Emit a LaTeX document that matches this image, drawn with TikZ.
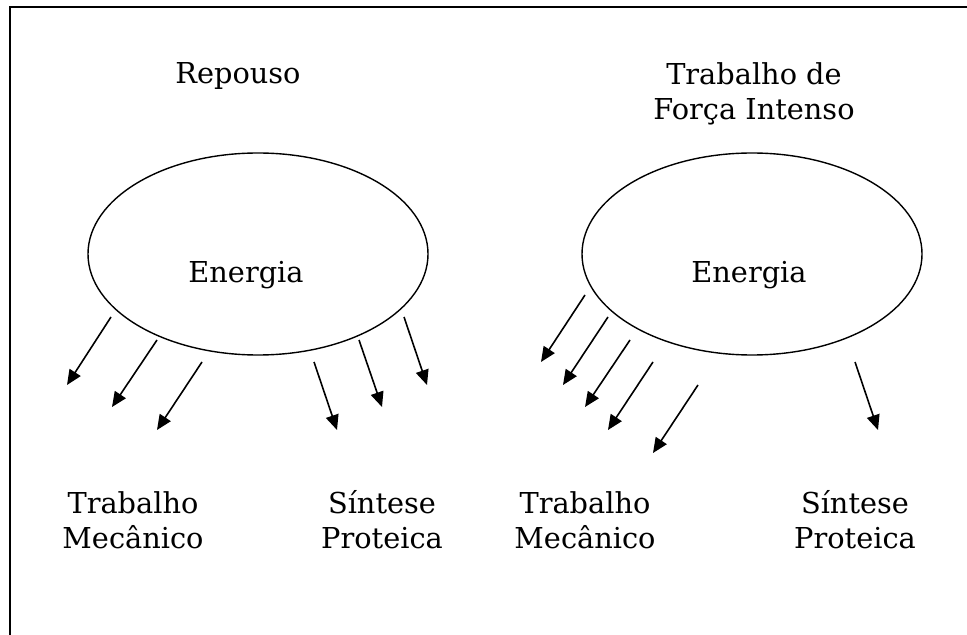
\documentclass[tikz,border=0pt]{standalone}
\usepackage{fontspec}
\setmainfont{DejaVu Serif}
\usetikzlibrary{shapes.geometric,arrows.meta}

\tikzset{
    blob/.style={ellipse, draw, line width=0.7pt, minimum width=170pt, minimum height=101pt, inner sep=0pt},
    lbl/.style={align=center, anchor=base, inner sep=0pt, font=\fontsize{14.4}{17.5}\selectfont},
    flow/.style={line width=0.8pt, -{Triangle[length=7.5pt,width=6.5pt]}}
}

\begin{document}
\begin{tikzpicture}[x=0.5pt,y=-0.5pt]

        % Define the size of the page and the frame
        \useasboundingbox (0,0) rectangle (967,635);
        \coordinate (F0) at (10,635);
        \coordinate (F1) at (10,7);
        \coordinate (F2) at (967,7);
        \draw [line width=1pt] (F0) -- (F1) -- (F2);

        % Two ellipses with the energy label
        \node[blob] (E1) at (258,254) {};
        \node[blob] (E2) at (752,254) {};
        \node[lbl] (N1) at (246,283) {Energia};
        \node[lbl] (N2) at (749,283) {Energia};

        % Titles above the ellipses (base = last line)
        \node[lbl] (T1) at (238,84) {Repouso};
        \node[lbl] (T2) at (754,120) {Trabalho de\\Força Intenso};

        % Labels below the arrows
        \node[lbl] (M1) at (133,548) {Trabalho\\Mecânico};
        \node[lbl] (P1) at (382,548) {Síntese\\Proteica};
        \node[lbl] (M2) at (585,548) {Trabalho\\Mecânico};
        \node[lbl] (P2) at (855,548) {Síntese\\Proteica};

        % Loop to draw the arrows leaving the ellipses
        \foreach \sx/\sy/\ex/\ey [count=\k] in {111/317/67/385, 157/340/112/407, 202/362/157/430,
            314/362/337/430, 359/340/382/407, 404/317/427/385,
            585/295/541/362, 608/317/563/385, 630/340/585/407, 653/362/608/430,
            698/385/653/453, 855/362/878/430} {
            \coordinate (s\k) at (\sx,\sy);
            \coordinate (t\k) at (\ex,\ey);
            \draw [flow] (s\k) -- (t\k);
        }

\end{tikzpicture}
\end{document}
